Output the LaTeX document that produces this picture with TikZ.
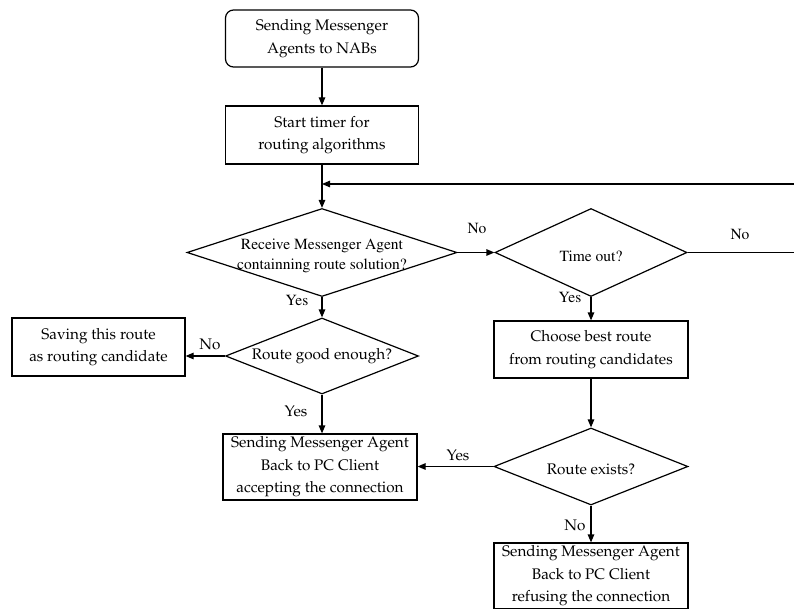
\documentclass[tikz,border=0pt]{standalone}
\usepackage[T1]{fontenc}
\usetikzlibrary{shapes.geometric,arrows.meta}
\newcommand{\pal}{\fontencoding{T1}\fontfamily{ppl}\fontsize{15.3}{22.5}\selectfont}
\newcommand{\tms}{\fontencoding{T1}\fontfamily{ptm}\fontsize{15.5}{19.5}\selectfont}
\tikzset{
  box/.style={draw, line width=1.2pt, rectangle, inner sep=0pt, align=center, font=\pal},
  rbox/.style={box, rounded corners=8pt},
  dia/.style={draw, line width=1.2pt, diamond, inner sep=0pt},
  dtxt/.style={align=center, inner sep=0pt},
  lbl/.style={inner sep=0pt},
  conn/.style={line width=1.2pt, -{Triangle[length=8pt,width=6.5pt]}}
}
\begin{document}
\begin{tikzpicture}[x=1pt,y=-1pt]
\useasboundingbox (0,0) rectangle (794,609);
% boxes
\node[rbox, minimum width=193pt, minimum height=57pt] (b1) at (322,38.5) {Sending Messenger\\Agents to NABs};
\node[box, minimum width=193pt, minimum height=58pt] (b2) at (322,135) {Start timer for\\routing algorithms};
\node[dia, minimum width=270pt, minimum height=88pt] (d1) at (322,252.5) {};
\node[dtxt, font=\tms] at (322,256) {Receive Messenger Agent\\containning route solution?};
\node[dia, minimum width=192pt, minimum height=88pt] (d2) at (591,252.5) {};
\node[dtxt, font=\tms] at (591,256) {Time out?};
\node[dia, minimum width=193pt, minimum height=76pt] (d3) at (322,356) {};
\node[dtxt, font=\pal] at (322,356) {Route good enough?};
\node[box, minimum width=173pt, minimum height=58pt] (save) at (98.5,347) {Saving this route\\as routing candidate};
\node[box, minimum width=194pt, minimum height=66pt] (acc) at (320,467) {Sending Messenger Agent\\Back to PC Client\\accepting the connection};
\node[box, minimum width=194pt, minimum height=57pt] (best) at (591,349.5) {Choose best route\\from routing candidates};
\node[dia, minimum width=194pt, minimum height=77pt] (d4) at (591,466.5) {};
\node[dtxt, font=\pal] at (591,469) {Route exists?};
\node[box, minimum width=194pt, minimum height=66pt] (ref) at (591,576) {Sending Messenger Agent\\Back to PC Client\\refusing the connection};
% connectors
\coordinate (j) at (322,184);
\coordinate (r1) at (800,252.5);
\coordinate (r2) at (800,184);
\draw[conn] (b1) -- (b2);
\draw[conn] (b2) -- (d1);
\draw[conn] (d2.east) -- (r1) -- (r2) -- (j);
\draw[conn] (d1.east) -- (d2.west);
\draw[conn] (d1.south) -- (d3.north);
\draw[conn] (d3.west) -- (d3.west -| save.east);
\draw[conn] (d3.south) -- (d3.south |- acc.north);
\draw[conn] (d2.south) -- (best.north);
\draw[conn] (best.south) -- (d4.north);
\draw[conn] (d4.west) -- (d4.west -| acc.east);
\draw[conn] (d4.south) -- (ref.north);
% labels
\node[lbl, font=\tms] at (477,229) {No};
\node[lbl, font=\tms] at (740,235) {No};
\node[lbl, font=\tms] at (297,301) {Yes};
\node[lbl, font=\tms] at (570,298) {Yes};
\node[lbl, font=\pal] at (210,344) {No};
\node[lbl, font=\pal] at (296,411) {Yes};
\node[lbl, font=\pal] at (458,455) {Yes};
\node[lbl, font=\pal] at (575,525) {No};
\end{tikzpicture}
\end{document}
